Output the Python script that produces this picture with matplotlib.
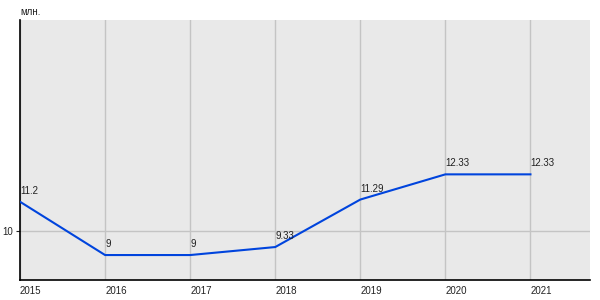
import matplotlib
matplotlib.use("Agg")
import matplotlib.pyplot as plt

# Data
years = [2015, 2016, 2017, 2018, 2019, 2020, 2021]
values = [11.2, 9, 9, 9.33, 11.29, 12.33, 12.33]
labels = ["11.2", "9", "9", "9.33", "11.29", "12.33", "12.33"]
unit = "млн."

plt.rcParams['font.family'] = ['Liberation Sans', 'DejaVu Sans']

fig = plt.figure(figsize=(6, 3), dpi=100)
ax = fig.add_axes([20/600, 20/300, 570/600, 260/300])
ax.set_facecolor('#e9e9e9')

ax.plot(years, values, color='#0044dd', lw=1.5, zorder=3)
for x, y, t in zip(years, values, labels):
    ax.annotate(t, (x, y), xytext=(0, 6), textcoords='offset pixels',
                ha='left', va='bottom', fontsize=7, color='#222222', zorder=4)

ax.set_xlim(2015, 2021.7)
ax.set_ylim(7.97, 18.7)
ax.set_xticks(years)
ax.set_xticklabels([str(y) for y in years], ha='left')
ax.set_yticks([10])
ax.grid(True, color='#c4c4c4', lw=1)
ax.set_axisbelow(True)

for s in ['top', 'right']:
    ax.spines[s].set_visible(False)
for s in ['left', 'bottom']:
    ax.spines[s].set_color('black')
    ax.spines[s].set_linewidth(1.2)

ax.tick_params(axis='x', length=0, pad=4, labelsize=7, colors='#222222')
ax.tick_params(axis='y', length=3, pad=2, labelsize=7, colors='#222222')

fig.text(20/600, 1 - 12/300, unit, fontsize=7, ha='left', va='center', color='#222222')

fig.savefig('out.png', dpi=100)
